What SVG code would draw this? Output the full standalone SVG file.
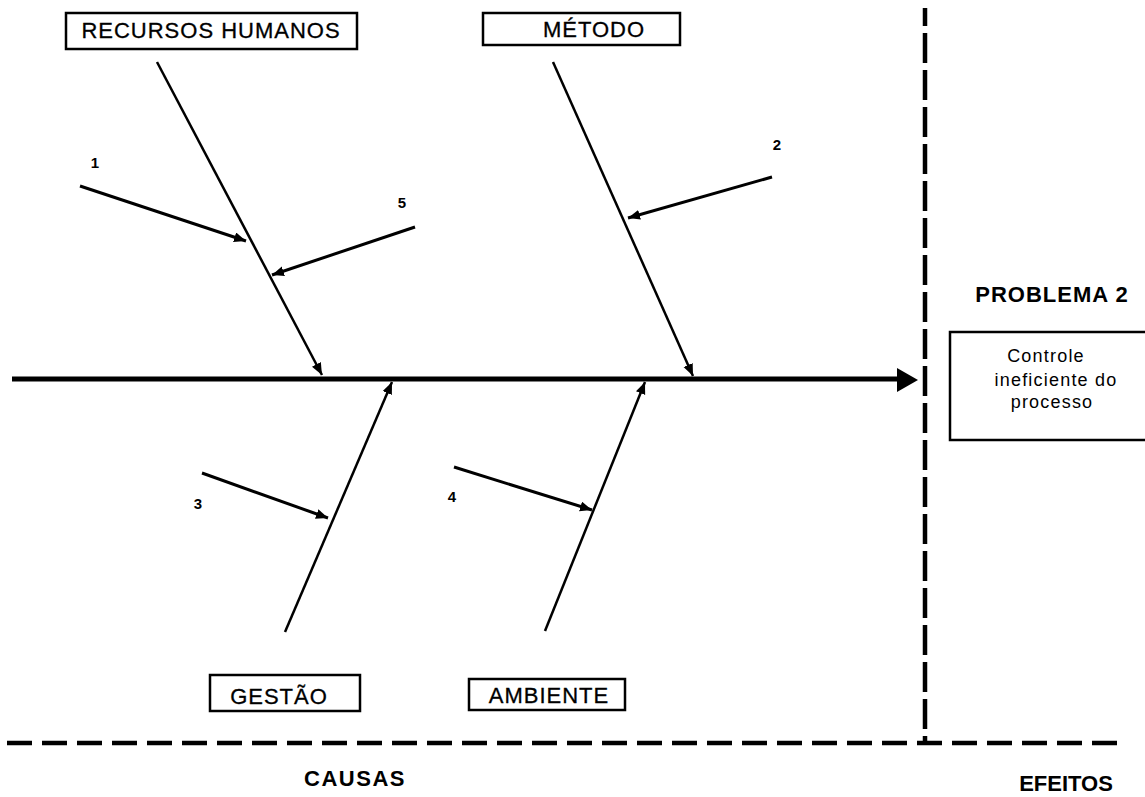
<svg xmlns="http://www.w3.org/2000/svg" width="1145" height="797" viewBox="0 0 1145 797">
<style>
.box{fill:#fff;stroke:#000;stroke-width:2.5}
.lbl{font-family:"Liberation Sans",Arial,sans-serif;font-size:22px;fill:#000;text-anchor:middle;letter-spacing:1px;stroke:#000;stroke-width:0.3}
.num{font-family:"Liberation Sans",Arial,sans-serif;font-size:15px;font-weight:bold;fill:#000;text-anchor:middle}
.bold{font-family:"Liberation Sans",Arial,sans-serif;font-size:22px;font-weight:bold;fill:#000;text-anchor:middle}
.eff{font-family:"Liberation Sans",Arial,sans-serif;font-size:18px;fill:#000;text-anchor:middle;letter-spacing:1.2px}
.bone{stroke:#000;stroke-width:2.5;fill:none;marker-end:url(#ah)}
.sub{stroke:#000;stroke-width:3;fill:none;marker-end:url(#ah)}
.dash{stroke:#000;stroke-width:4.5;fill:none}
</style>
<defs>
<marker id="ah" markerUnits="userSpaceOnUse" markerWidth="14" markerHeight="12" refX="12" refY="5" orient="auto">
<path d="M0,0 L12,5 L0,10 Z" fill="#000"/>
</marker>
</defs>
<rect width="1145" height="797" fill="#fff"/>
<g id="connectors">
<line x1="12" y1="379" x2="898" y2="379" stroke="#000" stroke-width="5"/>
<path d="M897,368 L918,380 L897,392 Z" fill="#000"/>
<line class="bone" x1="157" y1="62" x2="322" y2="375"/>
<line class="bone" x1="553" y1="62" x2="693" y2="376"/>
<line class="bone" x1="285" y1="632" x2="392" y2="382"/>
<line class="bone" x1="545" y1="631" x2="645" y2="382"/>
<line class="sub" x1="80" y1="186" x2="246" y2="241"/>
<line class="sub" x1="415" y1="227" x2="272" y2="275"/>
<line class="sub" x1="772" y1="177" x2="628" y2="218"/>
<line class="sub" x1="202" y1="473" x2="328" y2="518"/>
<line class="sub" x1="454" y1="467" x2="592" y2="510"/>
<line class="dash" x1="925" y1="8" x2="925" y2="742" stroke-dasharray="30 7" stroke-dashoffset="12"/>
<line class="dash" x1="7" y1="743" x2="1118" y2="743" stroke-dasharray="25 10"/>
</g>
<g id="recursos-humanos">
<rect class="box" x="66" y="13" width="291" height="36"/>
<text class="lbl" x="211" y="38">RECURSOS HUMANOS</text>
</g>
<g id="metodo">
<rect class="box" x="483" y="13" width="197" height="32"/>
<text class="lbl" x="594" y="37">MÉTODO</text>
</g>
<g id="gestao">
<rect class="box" x="210" y="675" width="150" height="36"/>
<text class="lbl" x="279" y="704">GESTÃO</text>
</g>
<g id="ambiente">
<rect class="box" x="469" y="679" width="156" height="31"/>
<text class="lbl" x="549" y="703">AMBIENTE</text>
</g>
<g id="labels">
<text class="num" x="95" y="168">1</text>
<text class="num" x="777" y="150">2</text>
<text class="num" x="198" y="509">3</text>
<text class="num" x="452" y="502">4</text>
<text class="num" x="402" y="208">5</text>
</g>
<g id="problema">
<text class="bold" x="1052" y="302" style="letter-spacing:1px">PROBLEMA 2</text>
<rect class="box" x="950" y="332" width="200" height="108"/>
<text class="eff" x="1046" y="362">Controle</text>
<text class="eff" x="1056" y="386">ineficiente do</text>
<text class="eff" x="1052" y="408">processo</text>
</g>
<g id="footer">
<text class="bold" x="355" y="786" style="letter-spacing:1.5px">CAUSAS</text>
<text class="bold" x="1066" y="791">EFEITOS</text>
</g>
</svg>
